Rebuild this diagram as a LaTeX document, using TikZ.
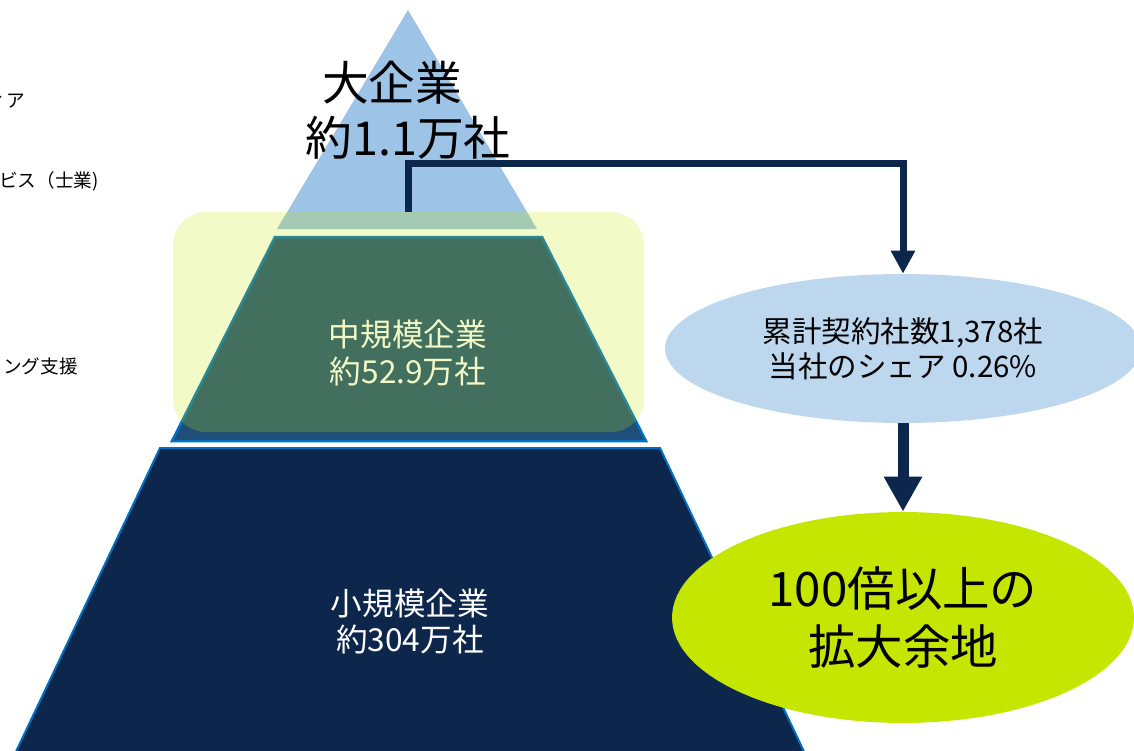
\documentclass[tikz,border=0pt]{standalone}
\usepackage{fontspec}
\setmainfont{Noto Sans CJK JP}
\usetikzlibrary{arrows.meta,shapes.geometric}

\definecolor{skyblue}{HTML}{9DC3E6}
\definecolor{midblue}{HTML}{1F4E79}
\definecolor{navy}{HTML}{0C264C}
\definecolor{edgeblue}{HTML}{0070C0}
\definecolor{paleblue}{HTML}{BDD7EE}
\definecolor{lime}{HTML}{C4E600}

\tikzset{
  layer/.style={align=center, inner sep=0pt},
  side/.style={anchor=east, inner sep=0pt, font=\fontsize{10.6}{12}\selectfont},
  link/.style={draw=navy, line width=0.14cm,
    -{Triangle[length=0.46cm, width=0.46cm]}},
  bigarrow/.style={draw=navy, line width=0.22cm,
    -{Triangle[length=0.70cm, width=0.72cm]}},
  bubble/.style={ellipse, inner sep=0pt, align=center}
}

\begin{document}
\begin{tikzpicture}[x=0.02cm, y=-0.02cm]
  \useasboundingbox (0,0) rectangle (1134,751);
  \clip (0,0) rectangle (1134,751);

  \fill[skyblue] (408,10) -- (537,229) -- (277,229) -- cycle;
  \coordinate (foot) at (408,212);
  \coordinate (bend) at (408,163);

  \filldraw[fill=midblue, draw=edgeblue, line width=0.05cm]
    (275,237) -- (542,237) -- (646,441) -- (172,441) -- cycle;
  \filldraw[fill=navy, draw=edgeblue, line width=0.04cm]
    (160,448) -- (660,448) -- (808,760) -- (12,760) -- cycle;

  \node[layer, font=\fontsize{26.6}{31.2}\selectfont] (big) at (408,110)
    {大企業\hspace*{0.68em}\\約1.1万社};
  \node[layer, white, font=\fontsize{18}{21.5}\selectfont] (mid) at (408,353)
    {中規模企業\\約52.9万社};
  \node[layer, white, font=\fontsize{18}{20.5}\selectfont] (small) at (410,621)
    {小規模企業\\約304万社};

  \fill[lime, opacity=0.22, rounded corners=0.66cm]
    (173,212) rectangle (644,432);

  \node[bubble, fill=paleblue, minimum width=9.52cm, minimum height=2.98cm,
    font=\fontsize{16.8}{19.8}\selectfont] (share) at (903,348.5)
    {累計契約社数1,378社\\当社のシェア 0.26\%};
  \node[bubble, fill=lime, minimum width=9.24cm, minimum height=4.22cm,
    font=\fontsize{27}{33}\selectfont] (room) at (903,617.5)
    {100倍以上の\\拡大余地};

  \draw[link] (foot) -- (bend) -| (share.north);
  \draw[bigarrow] (share.south) -- (room.north);

  \node[side] (media) at (25,101) {ィア};
  \node[side] (shigyo) at (99,181) {ビス（士業)};
  \node[side] (shien) at (78,366) {ング支援};
\end{tikzpicture}
\end{document}
